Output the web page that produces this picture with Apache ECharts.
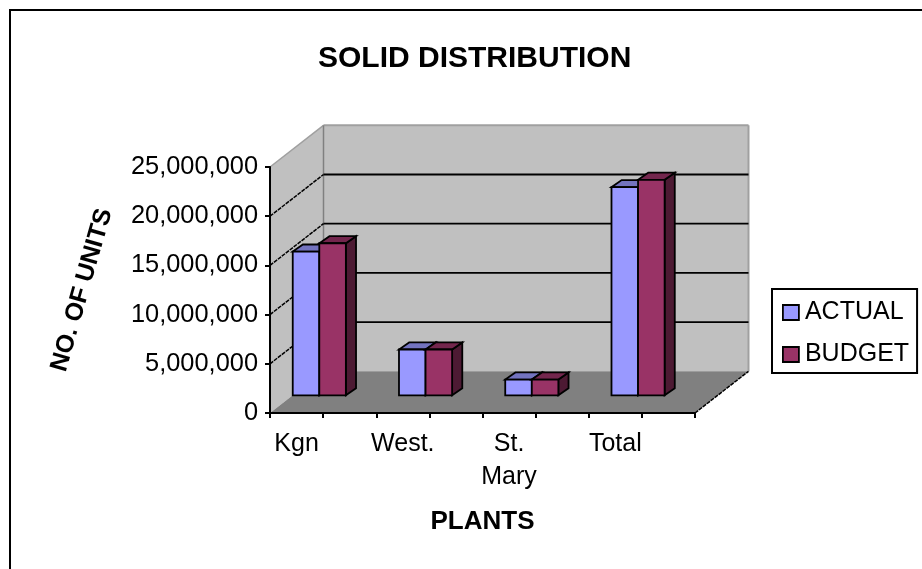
<!DOCTYPE html>
<html>
<head>
<meta charset="utf-8">
<style>html,body{margin:0;padding:0;background:#fff}#chart{width:922px;height:569px}</style>
<script src="https://cdn.jsdelivr.net/npm/echarts@6/dist/echarts.min.js"></script>
</head>
<body>
<div id="chart"></div>
<script>
// Solid distribution by plant, units shipped against budget
const categories = ['Kgn', 'West.', 'St.\nMary', 'Total'];
const actual = [14600000, 4650000, 1600000, 21150000];
const budget = [15450000, 4650000, 1600000, 21900000];
const yTicks = [0, 5000000, 10000000, 15000000, 20000000, 25000000];

// Each category owns two axis slots: bars in the first, a gap in the second
const axisSlots = categories.flatMap(function (c) { return [c, '']; });
const toPoints = function (values) {
  return values.map(function (v, i) { return [i * 2, v]; });
};

// Oblique projection of the floor depth, in pixels
const DEPTH_X = 53.5, DEPTH_Y = 41.7;
// Bars stand in the middle of the floor depth
const BAR_FRONT = 0.425, BAR_DEPTH_X = 0.19, BAR_DEPTH_Y = 0.17;

const FONT = '"Liberation Sans", Arial, sans-serif';

function poly(points, fill, stroke, width) {
  return {
    type: 'polygon',
    shape: { points: points },
    style: { fill: fill, stroke: stroke || null, lineWidth: width || 0 }
  };
}
function seg(a, b, stroke, width, dash) {
  return {
    type: 'line',
    shape: { x1: a[0], y1: a[1], x2: b[0], y2: b[1] },
    style: { stroke: stroke, lineWidth: width, lineDash: dash || null }
  };
}

// Back wall, side wall, floor and the gridlines that fold across both walls
function renderWalls(params, api) {
  const cs = params.coordSys;
  const x0 = cs.x, x1 = cs.x + cs.width;
  const bottom = api.coord([0, yTicks[0]])[1];
  const top = api.coord([0, yTicks[yTicks.length - 1]])[1];
  const back = function (p) { return [p[0] + DEPTH_X, p[1] - DEPTH_Y]; };
  const fl = [x0, bottom], fr = [x1, bottom], tl = [x0, top];
  const children = [
    poly([fl, tl, back(tl), back(fl)], '#c0c0c0'),
    poly([back(fl), back(tl), back([x1, top]), back(fr)], '#c0c0c0'),
    seg(tl, back(tl), '#a0a0a0', 1.5),
    seg(back(tl), back([x1, top]), '#a0a0a0', 2),
    seg(back(tl), back(fl), '#808080', 1.5),
    seg(back([x1, top]), back(fr), '#a0a0a0', 2),
    poly([fl, fr, back(fr), back(fl)], '#808080')
  ];
  yTicks.slice(1, -1).forEach(function (v) {
    const y = api.coord([0, v])[1];
    children.push(seg([x0, y], back([x0, y]), '#000', 1.5, [4, 1]));
    children.push(seg(back([x0, y]), back([x1, y]), '#000', 1.8));
  });
  children.push(seg(fr, back(fr), '#000', 1.5, [4, 1]));
  return { type: 'group', children: children };
}

// One bar as three faces: front, top and right side
function barRenderer(position, frontColor, topColor, sideColor) {
  return function (params, api) {
    const slot = api.value(0);
    const slotWidth = api.size([1, 0])[0];
    const w = slotWidth / 2;
    const left = api.coord([slot, 0])[0] - slotWidth / 2 + position * w + BAR_FRONT * DEPTH_X;
    const base = api.coord([slot, 0])[1] - BAR_FRONT * DEPTH_Y;
    const head = api.coord([slot, api.value(1)])[1] - BAR_FRONT * DEPTH_Y;
    const dx = BAR_DEPTH_X * DEPTH_X, dy = BAR_DEPTH_Y * DEPTH_Y;
    const right = left + w;
    const line = '#000';
    return {
      type: 'group',
      children: [
        poly([[right, base], [right, head], [right + dx, head - dy], [right + dx, base - dy]], sideColor, line, 1.8),
        poly([[left, head], [right, head], [right + dx, head - dy], [left + dx, head - dy]], topColor, line, 1.8),
        poly([[left, base], [left, head], [right, head], [right, base]], frontColor, line, 1.8)
      ]
    };
  };
}

const chart = echarts.init(document.getElementById('chart'), null, { renderer: 'canvas' });
chart.setOption({
  animation: false,
  backgroundColor: '#fff',
  textStyle: { fontFamily: FONT },
  title: {
    text: 'SOLID DISTRIBUTION',
    left: 318,
    top: 44,
    padding: 0,
    textStyle: { fontFamily: FONT, fontSize: 30, fontWeight: 'bold', color: '#000' }
  },
  legend: {
    orient: 'vertical',
    left: 772,
    top: 289,
    padding: [11, 8, 6, 10],
    itemGap: 17,
    itemWidth: 16,
    itemHeight: 15,
    icon: 'rect',
    backgroundColor: '#fff',
    borderColor: '#000',
    borderWidth: 2,
    borderRadius: 0,
    data: ['ACTUAL', 'BUDGET'],
    itemStyle: { borderColor: '#000', borderWidth: 1.8 },
    textStyle: { fontFamily: FONT, fontSize: 25, color: '#000', padding: [0, 0, 0, 1] }
  },
  grid: { left: 270, right: 227, top: 167, bottom: 156, containLabel: false },
  xAxis: {
    type: 'category',
    data: axisSlots,
    z: 6,
    name: 'PLANTS',
    nameLocation: 'middle',
    nameGap: 96,
    nameTextStyle: { fontFamily: FONT, fontSize: 26, fontWeight: 'bold', color: '#000' },
    axisLine: { lineStyle: { color: '#000', width: 2 } },
    axisTick: { show: true, alignWithLabel: false, length: 5, lineStyle: { color: '#000', width: 2 } },
    axisLabel: {
      interval: 0,
      margin: 15,
      color: '#000',
      fontFamily: FONT,
      fontSize: 25,
      lineHeight: 33
    },
    splitLine: { show: false }
  },
  yAxis: {
    type: 'value',
    min: 0,
    max: 25000000,
    interval: 5000000,
    z: 6,
    name: 'NO. OF UNITS',
    nameLocation: 'middle',
    nameRotate: 74,
    nameGap: 188,
    nameTextStyle: {
      fontFamily: FONT, fontSize: 25, fontWeight: 'bold', color: '#000',
      align: 'center', verticalAlign: 'middle'
    },
    axisLine: { show: true, lineStyle: { color: '#000', width: 2 } },
    axisTick: { show: true, length: 5, lineStyle: { color: '#000', width: 2 } },
    axisLabel: {
      margin: 12,
      color: '#000',
      fontFamily: FONT,
      fontSize: 25.4,
      formatter: function (v) { return v.toLocaleString('en-US'); }
    },
    splitLine: { show: false }
  },
  graphic: [{
    type: 'polyline',
    silent: true,
    shape: { points: [[10, 569], [10, 10], [922, 10]] },
    style: { stroke: '#000', lineWidth: 2, fill: null }
  }],
  series: [
    {
      name: 'WALLS',
      type: 'custom',
      z: 1,
      silent: true,
      renderItem: renderWalls,
      data: [[0, 0]],
      encode: { x: 0, y: 1 }
    },
    {
      name: 'ACTUAL',
      type: 'custom',
      z: 2,
      itemStyle: { color: '#9999ff' },
      renderItem: barRenderer(0, '#9999ff', '#7373bf', '#4d4d80'),
      data: toPoints(actual),
      encode: { x: 0, y: 1 }
    },
    {
      name: 'BUDGET',
      type: 'custom',
      z: 3,
      itemStyle: { color: '#993366' },
      renderItem: barRenderer(1, '#993366', '#73264d', '#4d1a33'),
      data: toPoints(budget),
      encode: { x: 0, y: 1 }
    }
  ]
});
</script>
</body>
</html>
